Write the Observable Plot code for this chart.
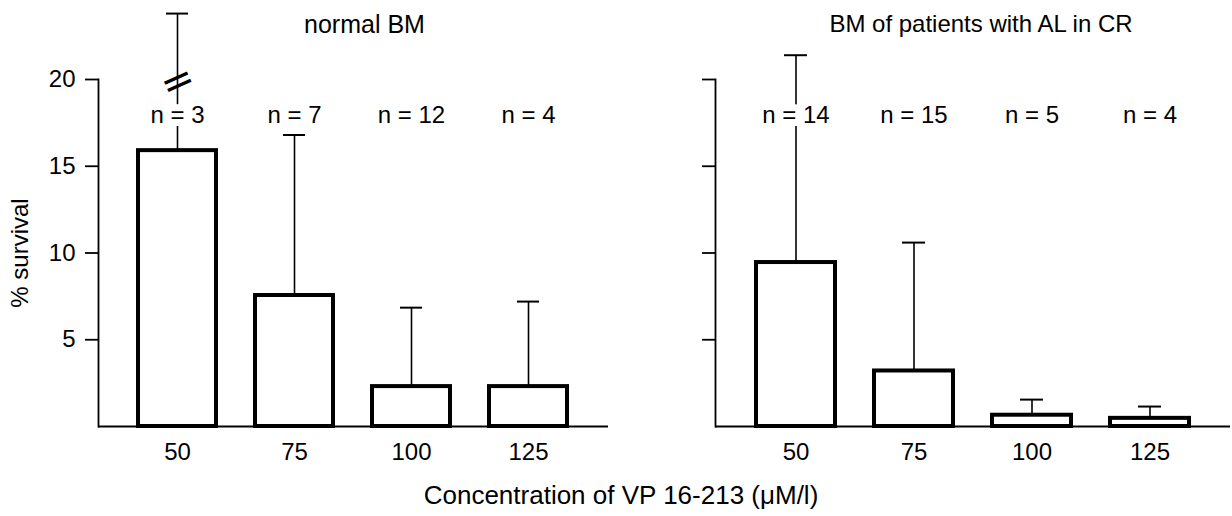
<!DOCTYPE html>
<html><head><meta charset="utf-8">
<script src="https://cdn.jsdelivr.net/npm/d3@7"></script>
<script src="https://cdn.jsdelivr.net/npm/@observablehq/plot@0.6"></script>
<style>
body{margin:0;background:#fff;}
#wrap{position:relative;width:1232px;height:516px;font-family:"Liberation Sans",Arial,Helvetica,sans-serif;background:#fff;}
#left,#right{position:absolute;top:0;}
#left{left:0}
#right{left:616px}
#xtitle{position:absolute;left:0;width:1242px;top:480px;line-height:30px;text-align:center;font-size:26px;color:#000;}
</style></head><body>
<div id="wrap"><div id="left"></div><div id="right"></div><div id="xtitle"></div></div>
<script>
const concentrations = [50, 75, 100, 125];
const yTicks = [5, 10, 15, 20];
const normalMean = [15.9, 7.55, 2.3, 2.3];
const normalUpper = [23.8, 16.8, 6.85, 7.2];
const normalN = [3, 7, 12, 4];
const alcrMean = [9.45, 3.2, 0.65, 0.47];
const alcrUpper = [21.4, 10.6, 1.55, 1.15];
const alcrN = [14, 15, 5, 4];
const panelTitles = ["normal BM", "BM of patients with AL in CR"];
const yLabel = "% survival";
const xTitle = "Concentration of VP 16-213 (μM/l)";
const brokenConcentrations = [50];

const FONT = '"Liberation Sans", Arial, Helvetica, sans-serif';

function panel({mean, upper, n, title, titleDx, titleSize, marginLeft, marginRight, showLabels, broken}) {
  const data = concentrations.map((c, i) => ({c, mean: mean[i], upper: upper[i], n: n[i]}));
  const marks = [
    Plot.ruleX(data, {x: "c", y1: "mean", y2: "upper", stroke: "#000", strokeWidth: 1.6}),
    Plot.tickY(data, {x: "c", y: "upper", stroke: "#000", strokeWidth: 2, insetLeft: 28, insetRight: 28}),
    Plot.barY(data, {x: "c", y: "mean", fill: "#fff", stroke: "#000", strokeWidth: 4}),
    Plot.frame({anchor: "left", stroke: "#000", strokeWidth: 1.8}),
    Plot.ruleY([0], {stroke: "#000", strokeWidth: 1.8}),
    Plot.axisY({ticks: yTicks, tickSize: 13, tickPadding: 10, label: null,
      tickFormat: showLabels ? (d => String(d)) : (() => ""), strokeWidth: 1.8, fontSize: 24}),
    Plot.axisX({tickSize: 0, tickPadding: 16, label: null, fontSize: 24}),
    Plot.text(data, {x: "c", text: d => `n = ${d.n}`, frameAnchor: "top", dy: 36, lineAnchor: "middle",
      stroke: "#fff", strokeWidth: 14, paintOrder: "stroke", fill: "#000", fontSize: 24}),
    Plot.text([title], {frameAnchor: "top", dx: titleDx, dy: -55, lineAnchor: "middle", textAnchor: "middle", fontSize: titleSize, fill: "#000"})
  ];
  if (broken) {
    marks.push(Plot.text(data.filter(d => brokenConcentrations.includes(d.c)), {
      x: "c", text: () => "=", frameAnchor: "top", dy: 2, rotate: -24, lineAnchor: "middle",
      fontSize: 40, fontFamily: "DejaVu Sans", fill: "#000"}));
  }
  if (showLabels) {
    marks.push(Plot.text([yLabel], {frameAnchor: "left", dx: -78, rotate: -90, textAnchor: "middle",
      lineAnchor: "middle", fontSize: 24, fill: "#000"}));
  }
  return Plot.plot({
    width: 616, height: 478,
    marginTop: 79, marginBottom: 52, marginLeft, marginRight,
    style: {fontFamily: FONT, fontSize: "24px", color: "#000", background: "#fff"},
    x: {type: "band", domain: concentrations, paddingInner: 0.33, paddingOuter: 0.33, label: null},
    y: {domain: [0, 20], label: null},
    marks
  });
}

document.getElementById("left").appendChild(panel({
  mean: normalMean, upper: normalUpper, n: normalN, title: panelTitles[0], titleDx: 11, titleSize: 25,
  marginLeft: 98, marginRight: 8, showLabels: true, broken: true}));
document.getElementById("right").appendChild(panel({
  mean: alcrMean, upper: alcrUpper, n: alcrN, title: panelTitles[1], titleDx: 8, titleSize: 24,
  marginLeft: 99, marginRight: 2, showLabels: false, broken: false}));
document.getElementById("xtitle").textContent = xTitle;
</script>
</body></html>
